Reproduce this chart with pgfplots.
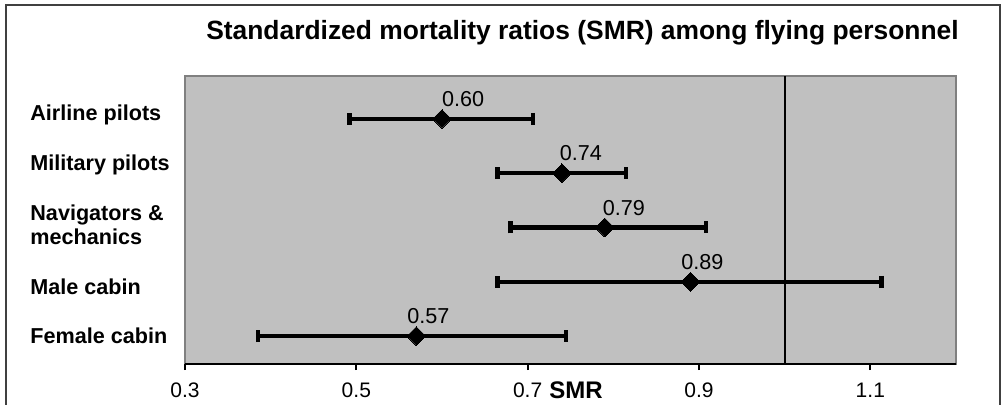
\documentclass[border=0pt]{standalone}
\usepackage{pgfplots}
\pgfplotsset{compat=1.18}
\usepackage{pgfplotstable}
\usepackage{fontspec}
\setmainfont{Liberation Sans}

\definecolor{plotgray}{RGB}{192,192,192}
\definecolor{edgegray}{RGB}{128,128,128}
\definecolor{framegray}{RGB}{64,64,64}

% SMR with 95% CI; dx shifts the value label
\pgfplotstableread{
y    x     em     ep     lab   dx
5.0  0.60  0.108  0.106  0.60  0
4.0  0.74  0.075  0.075  0.74  -1
3.0  0.79  0.110  0.118  0.79  -1
2.0  0.89  0.225  0.223  0.89  -4.5
1.0  0.57  0.185  0.175  0.57  -4.5
}\smr

\begin{document}
\begin{tikzpicture}
\useasboundingbox (-92.5pt,-20pt) rectangle (410pt,182pt);
\draw[framegray, line width=0.75pt] (-89.5pt,-25pt) -- (-89.5pt,179.5pt) -- (407.5pt,179.5pt) -- (407.5pt,-25pt);
\begin{axis}[
  at={(0,0)}, anchor=south west,
  scale only axis, width=385.5pt, height=144pt,
  xmin=0.3, xmax=1.2, ymin=0.485, ymax=5.79,
  axis background/.style={fill=plotgray, draw=edgegray, line width=0.75pt},
  axis x line*=bottom, axis y line*=left,
  axis line style={-},
  x axis line style={black, line width=1pt},
  y axis line style={draw=none},
  xtick={0.3,0.5,0.7,0.9,1.1},
  xticklabels={0.3,0.5,0.7,0.9,1.1},
  tick align=outside, major tick length=3pt,
  xtick style={black, line width=1pt},
  ytick style={draw=none},
  ytick={1.0,1.91,3.05,4.15,5.07},
  yticklabels={Female cabin, Male cabin, {Navigators \&\\mechanics}, Military pilots, Airline pilots},
  yticklabel style={anchor=west, align=left, inner sep=0pt, xshift=-74.5pt,
    font=\fontsize{10.8}{12}\selectfont\bfseries},
  xticklabel style={font=\fontsize{10.5}{12}\selectfont, yshift=-3pt},
  xlabel={SMR},
  xlabel style={at={(axis description cs:0.5,0)}, anchor=north, yshift=-5.5pt, xshift=2.8pt,
    font=\fontsize{12}{14}\selectfont\bfseries},
  title={Standardized mortality ratios (SMR) among flying personnel},
  title style={at={(axis description cs:0.5,1)}, anchor=center, yshift=15.5pt, xshift=6pt,
    font=\fontsize{13.2}{15}\selectfont\bfseries},
  clip=false,
]
\addplot[black, line width=1pt, forget plot] coordinates {(1,0.485) (1,5.79)};
\addplot[black, only marks, mark=square*,
  mark options={rotate=45, fill=black, draw=black, line width=0pt},
  mark size=3.3pt,
  error bars/.cd, x dir=both, x explicit, error mark=|,
  error bar style={line width=2.2pt, black},
  error mark options={line width=2.25pt, mark size=3pt, black},
  /pgfplots/.cd,
  nodes near coords, point meta=explicit symbolic,
  visualization depends on={\thisrow{dx} \as \dx},
  every node near coord/.append style={anchor=south west, inner sep=0pt,
    yshift=6pt, xshift=\dx pt, font=\fontsize{10.8}{12}\selectfont},
] table[x=x, y=y, x error plus=ep, x error minus=em, meta=lab] {\smr};
\end{axis}
\end{tikzpicture}
\end{document}
